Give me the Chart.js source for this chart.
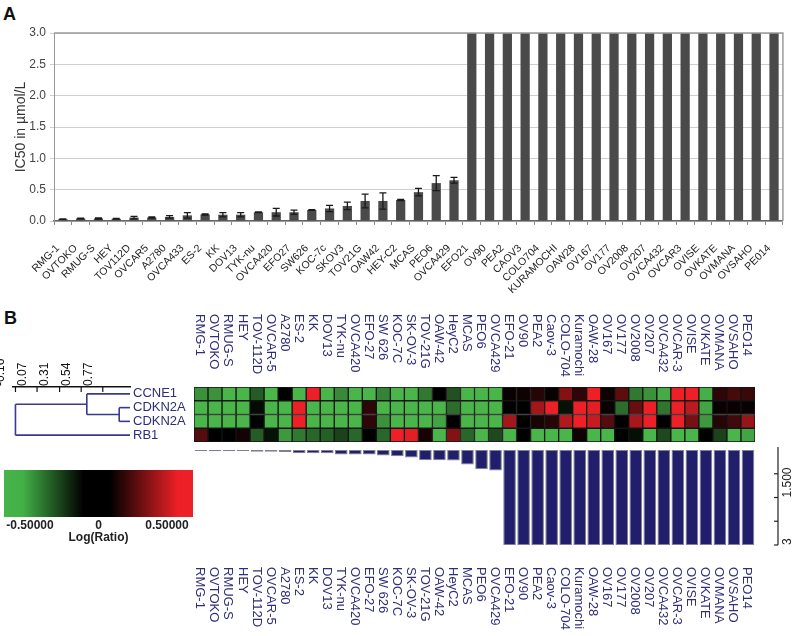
<!DOCTYPE html>
<html><head><meta charset="utf-8">
<script src="https://cdn.jsdelivr.net/npm/chart.js@4.4.1/dist/chart.umd.min.js"></script>
<style>
html,body{margin:0;padding:0;background:#fff;}
#wrap{position:relative;width:800px;height:636px;overflow:hidden;font-family:"Liberation Sans",Arial,sans-serif;background:#fff;}
canvas{position:absolute;}
.pl{position:absolute;font-weight:bold;font-size:18px;color:#111;line-height:20px;}
</style></head><body>
<div id="wrap">
<div class="pl" style="left:3px;top:4px">A</div>
<div class="pl" style="left:4px;top:308px">B</div>
<canvas id="cA" style="left:0;top:0" width="800" height="300"></canvas>
<canvas id="cH" style="left:180px;top:290px" width="600" height="160"></canvas>
<canvas id="cB" style="left:180px;top:440px" width="620" height="196"></canvas>
<canvas id="cD" style="left:0;top:340px" width="192" height="110"></canvas>
<canvas id="cC" style="left:0;top:460px" width="200" height="85"></canvas>
</div>
<script>
// ---------- Panel A data ----------
const cellLinesA = ['RMG-1','OVTOKO','RMUG-S','HEY','TOV112D','OVCAR5','A2780','OVCA433','ES-2','KK','DOV13','TYK-nu','OVCA420','EFO27','SW626','KOC-7c','SKOV3','TOV21G','OAW42','HEY-C2','MCAS','PEO6','OVCA429','EFO21','OV90','PEA2','CAOV3','COLO704','KURAMOCHI','OAW28','OV167','OV177','OV2008','OV207','OVCA432','OVCAR3','OVISE','OVKATE','OVMANA','OVSAHO','PE014'];
const ic50 = [0.03,0.04,0.04,0.035,0.055,0.055,0.065,0.09,0.105,0.1,0.1,0.14,0.14,0.14,0.175,0.2,0.24,0.32,0.32,0.335,0.46,0.605,0.65,3,3,3,3,3,3,3,3,3,3,3,3,3,3,3,3,3,3,3];
const ic50Err = [0.005,0.005,0.01,0.005,0.02,0.01,0.02,0.045,0.01,0.035,0.035,0.005,0.06,0.035,0.005,0.05,0.06,0.11,0.13,0.01,0.06,0.12,0.045,0,0,0,0,0,0,0,0,0,0,0,0,0,0,0,0,0,0,0];
const yTicksA = [0,0.5,1,1.5,2,2.5,3];

// ---------- Panel B data ----------
const cellLinesB = ['RMG-1','OVTOKO','RMUG-S','HEY','TOV-112D','OVCAR-5','A2780','ES-2','KK','DOV13','TYK-nu','OVCA420','EFO-27','SW 626','KOC-7C','SK-OV-3','TOV-21G','OAW-42','HeyC2','MCAS','PEO6','OVCA429','EFO-21','OV90','PEA2','Caov-3','COLO-704','Kuramochi','OAW-28','OV167','OV177','OV2008','OV207','OVCA432','OVCAR-3','OVISE','OVKATE','OVMANA','OVSAHO','PEO14'];
const ic50B = [0.03,0.04,0.04,0.035,0.055,0.055,0.065,0.105,0.1,0.1,0.14,0.14,0.14,0.175,0.2,0.24,0.32,0.32,0.335,0.46,0.605,0.65,3,3,3,3,3,3,3,3,3,3,3,3,3,3,3,3,3,3];
const geneRows = ['CCNE1','CDKN2A','CDKN2A','RB1'];
const ccne1   = [-0.4,-0.4,-0.5,-0.5,-0.25,-0.5,0,-0.5,0.5,-0.5,-0.38,-0.5,-0.5,-0.36,-0.5,-0.5,-0.33,0,-0.22,-0.5,-0.5,-0.5,0.02,0.03,0.08,0.02,0.28,0.1,0.5,0.03,0.2,-0.33,-0.4,-0.47,0.5,0.5,-0.48,0.1,0.15,0.12];
const cdkn2aA = [-0.5,-0.5,-0.5,-0.5,-0.03,-0.5,-0.5,0.5,-0.5,-0.5,-0.5,-0.5,0.1,-0.5,-0.5,-0.5,-0.5,-0.5,-0.3,-0.5,-0.5,-0.5,0,0,0.35,0.5,-0.05,0.5,0.48,0.02,-0.3,0.22,0.5,-0.32,0.5,0.4,-0.45,0.02,0.02,0.02];
const cdkn2aB = [-0.5,-0.5,-0.5,-0.5,0,-0.5,-0.5,0.5,-0.5,-0.5,-0.5,-0.5,0.1,-0.4,-0.5,-0.5,-0.5,-0.45,0,-0.5,-0.5,-0.5,0.35,0,0.05,0.08,0.38,0.5,0.42,0.18,0,0.36,0.5,0,0.5,0.25,-0.42,0.08,0.14,0.32];
const rb1     = [0.18,0,0,0.04,-0.25,-0.05,-0.42,-0.33,-0.28,-0.26,-0.18,-0.28,0,-0.28,0.5,0.48,0.05,-0.5,0.28,-0.28,-0.5,-0.2,-0.5,0,-0.5,-0.5,-0.5,0.03,-0.5,-0.5,0,-0.04,-0.5,-0.2,-0.5,-0.5,0,-0.18,-0.5,-0.45];
const dendroTicks = [-0.16,0.07,0.31,0.54,0.77];
const dendroSegments = [
  [[0.60,0],[1.06,0]],
  [[0.945,1],[1.06,1]],
  [[0.945,2],[1.06,2]],
  [[0.945,1],[0.945,2]],
  [[0.60,1.5],[0.945,1.5]],
  [[0.60,0],[0.60,1.5]],
  [[-0.16,0.75],[0.60,0.75]],
  [[-0.16,3],[1.06,3]],
  [[-0.16,0.75],[-0.16,3]]
];
const legendTicks = [-0.5,0,0.5];
const barAxisTicks = [0.75,1.5,2.25,3];
const barAxisLabelValues = [1.5,3];
const barAxisLabelTexts = ['1.500','3'];

// ---------- common ----------
const fontFam = '"Liberation Sans", Arial, sans-serif';
const navy = '#2f2e7c';
Chart.defaults.font.family = fontFam;
Chart.defaults.animation = false;
Chart.defaults.responsive = false;
Chart.defaults.devicePixelRatio = 1;
Chart.defaults.plugins.legend.display = false;
Chart.defaults.plugins.tooltip.enabled = false;

function cellColor(v){
  const t = Math.min(1, Math.abs(v)/0.5);
  if (v < 0) return `rgb(${Math.round(74*t)},${Math.round(182*t)},${Math.round(74*t)})`;
  return `rgb(${Math.round(236*t)},${Math.round(32*t)},${Math.round(38*t)})`;
}

// ---------- Panel A ----------
const errorBars = {id:'errorBars', afterDatasetsDraw(chart){
  const meta = chart.getDatasetMeta(0), y = chart.scales.y, ctx = chart.ctx;
  ctx.save(); ctx.strokeStyle = '#1a1a1a'; ctx.lineWidth = 1.3;
  ic50Err.forEach((e,i)=>{
    if (!e) return;
    const x = meta.data[i].x, v = ic50[i];
    const yt = y.getPixelForValue(v+e), yb = y.getPixelForValue(Math.max(0, v-e));
    ctx.beginPath();
    ctx.moveTo(x,yt); ctx.lineTo(x,yb);
    ctx.moveTo(x-3.5,yt); ctx.lineTo(x+3.5,yt);
    ctx.moveTo(x-3.5,yb); ctx.lineTo(x+3.5,yb);
    ctx.stroke();
  });
  ctx.restore();
}};
const frameA = {id:'frameA', afterDraw(chart){
  const {ctx, chartArea:a} = chart;
  ctx.save(); ctx.strokeStyle = '#9a9a9a'; ctx.lineWidth = 1.5;
  ctx.beginPath(); ctx.moveTo(a.left,a.top); ctx.lineTo(a.right,a.top); ctx.lineTo(a.right,a.bottom); ctx.stroke();
  ctx.restore();
}};
new Chart(document.getElementById('cA'), {
  type:'bar',
  data:{labels:cellLinesA, datasets:[{data:ic50, backgroundColor:'#4a4a4a', barPercentage:0.52, categoryPercentage:1}]},
  options:{
    layout:{padding:{left:13,right:5,top:33,bottom:0}},
    scales:{
      x:{grid:{display:true, drawOnChartArea:false, offset:true, tickLength:4, color:'#888'},
         border:{color:'#666', width:1.5},
         ticks:{autoSkip:false, minRotation:45, maxRotation:45, font:{size:10.5}, color:'#222', padding:17, labelOffset:-5},
         afterFit(s){ s.height = 79; }},
      y:{min:0, max:3,
         afterBuildTicks(s){ s.ticks = yTicksA.map(v=>({value:v})); },
         ticks:{callback:v=>Number(v).toFixed(1), font:{size:12}, color:'#444', padding:4},
         grid:{color:'#cfcfcf', tickLength:4},
         border:{color:'#999'},
         title:{display:true, text:'IC50 in µmol/L', font:{size:14}, color:'#333', padding:0},
         afterFit(s){ s.width = 41; }}
    }
  },
  plugins:[errorBars, frameA]
});

// ---------- Heatmap ----------
const heatRows = [ccne1, cdkn2aA, cdkn2aB, rb1];
const topLabels = {id:'topLabels', afterDraw(chart){
  const {ctx} = chart, x = chart.scales.x;
  ctx.save(); ctx.fillStyle = navy; ctx.font = '13px '+fontFam;
  ctx.textAlign = 'left'; ctx.textBaseline = 'middle';
  cellLinesB.forEach((l,i)=>{
    ctx.save(); ctx.translate(x.getPixelForValue(i)-1, 24); ctx.rotate(Math.PI/2); ctx.fillText(l,0,0); ctx.restore();
  });
  ctx.restore();
}};
new Chart(document.getElementById('cH'), {
  type:'bar',
  data:{labels:cellLinesB, datasets: heatRows.map((row,r)=>({
    label:geneRows[r], data: row.map(()=>1), backgroundColor: row.map(cellColor),
    borderColor:'#141414', borderWidth:1, borderSkipped:false, barPercentage:1, categoryPercentage:1}))},
  options:{
    layout:{padding:{left:14,right:25,top:97,bottom:8}},
    scales:{x:{display:false, stacked:true}, y:{display:false, stacked:true, min:0, max:4, reverse:true}}
  },
  plugins:[topLabels]
});

// ---------- Hanging bars ----------
const barExtras = {id:'barExtras', afterDraw(chart){
  const {ctx, chartArea:a} = chart, x = chart.scales.x, y = chart.scales.y;
  ctx.save(); ctx.fillStyle = navy; ctx.font = '13px '+fontFam;
  ctx.textAlign = 'left'; ctx.textBaseline = 'middle';
  cellLinesB.forEach((l,i)=>{
    ctx.save(); ctx.translate(x.getPixelForValue(i)-1, 127); ctx.rotate(Math.PI/2); ctx.fillText(l,0,0); ctx.restore();
  });
  const axX = a.right + 23;
  ctx.strokeStyle = '#222'; ctx.lineWidth = 1.2;
  ctx.beginPath(); ctx.moveTo(axX, y.getPixelForValue(0)-3); ctx.lineTo(axX, y.getPixelForValue(3)); ctx.stroke();
  barAxisTicks.forEach(v=>{ const py = y.getPixelForValue(v); ctx.beginPath(); ctx.moveTo(axX-4,py); ctx.lineTo(axX,py); ctx.stroke(); });
  ctx.fillStyle = '#222'; ctx.font = '12px '+fontFam;
  barAxisLabelValues.forEach((v,i)=>{
    ctx.save(); ctx.translate(axX+10, y.getPixelForValue(v)); ctx.rotate(-Math.PI/2); ctx.fillText(barAxisLabelTexts[i],0,0); ctx.restore();
  });
  ctx.restore();
}};
new Chart(document.getElementById('cB'), {
  type:'bar',
  data:{labels:cellLinesB, datasets:[{data:ic50B, backgroundColor:'#211f6b', borderColor:'#80808e', borderWidth:1, borderSkipped:false, barPercentage:0.9, categoryPercentage:1}]},
  options:{
    layout:{padding:{left:14,right:45,top:10,bottom:91}},
    scales:{x:{display:false}, y:{display:false, min:0, max:3, reverse:true}}
  },
  plugins:[barExtras]
});

// ---------- Dendrogram ----------
const dendroExtras = {id:'dendroExtras', afterDraw(chart){
  const {ctx, chartArea:a} = chart, x = chart.scales.x, y = chart.scales.y;
  ctx.save();
  ctx.fillStyle = navy; ctx.font = '13px '+fontFam; ctx.textBaseline = 'middle'; ctx.textAlign = 'left';
  geneRows.forEach((g,i)=>ctx.fillText(g, a.right+3, y.getPixelForValue(i)));
  ctx.strokeStyle = '#111'; ctx.lineWidth = 1.2;
  dendroTicks.forEach(v=>{ const px = x.getPixelForValue(v); ctx.beginPath(); ctx.moveTo(px,a.top); ctx.lineTo(px,a.top+5); ctx.stroke(); });
  ctx.restore();
}};
new Chart(document.getElementById('cD'), {
  type:'scatter',
  data:{datasets: dendroSegments.map(seg=>({data: seg.map(p=>({x:p[0], y:p[1]})), showLine:true, borderColor:'#3a3990', borderWidth:1.6, pointRadius:0}))},
  options:{
    layout:{padding:{left:3,right:62,top:7,bottom:8}},
    scales:{
      x:{type:'linear', position:'top', min:-0.185, max:1.06,
         afterBuildTicks(s){ s.ticks = dendroTicks.map(v=>({value:v})); },
         ticks:{minRotation:90, maxRotation:90, font:{size:12}, color:'#111', padding:1, callback:v=>Number(v).toFixed(2)},
         grid:{drawOnChartArea:false, drawTicks:false},
         border:{color:'#111', width:1.5},
         afterFit(s){ s.height = 40; }},
      y:{type:'linear', min:-0.5, max:3.5, reverse:true, display:false}
    }
  },
  plugins:[dendroExtras]
});

// ---------- Colour legend ----------
new Chart(document.getElementById('cC'), {
  type:'bar',
  data:{labels:['Log(Ratio)'], datasets:[{data:[[-0.69,0.69]], barPercentage:1, categoryPercentage:1, borderSkipped:false,
    backgroundColor(ctx){
      const ch = ctx.chart, a = ch.chartArea;
      if (!a) return '#000';
      const g = ch.ctx.createLinearGradient(a.left,0,a.right,0);
      g.addColorStop(0,'rgb(70,180,74)'); g.addColorStop(0.1,'rgb(66,176,70)');
      g.addColorStop(0.42,'#000'); g.addColorStop(0.56,'#000');
      g.addColorStop(0.92,'rgb(236,32,38)'); g.addColorStop(1,'rgb(236,32,38)');
      return g;
    }}]},
  options:{
    indexAxis:'y',
    layout:{padding:{left:4,right:7,top:10,bottom:0}},
    scales:{
      x:{min:-0.69, max:0.69,
         afterBuildTicks(s){ s.ticks = legendTicks.map(v=>({value:v})); },
         ticks:{callback:v=> v===0 ? '0' : Number(v).toFixed(5), font:{size:12, weight:'bold'}, color:'#222', padding:1, maxRotation:0},
         grid:{display:false, drawTicks:false}, border:{display:false},
         title:{display:true, text:'Log(Ratio)', font:{size:12, weight:'bold'}, color:'#222', padding:0},
         afterFit(s){ s.height = 28; }},
      y:{display:false}
    }
  }
});
</script>
</body></html>
